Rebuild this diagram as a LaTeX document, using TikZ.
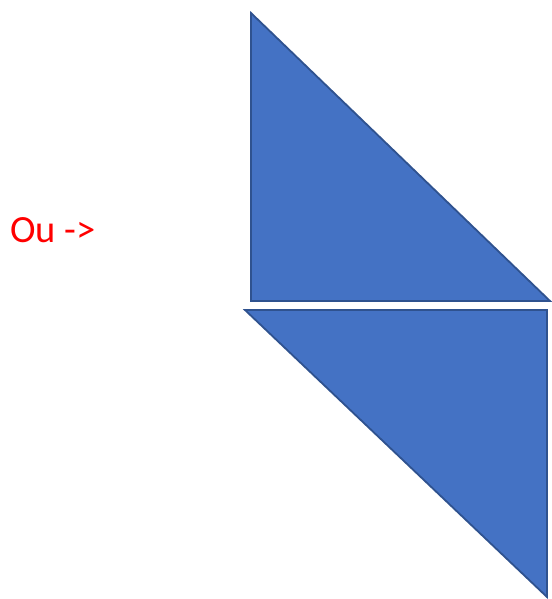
\documentclass[tikz,border=0pt]{standalone}
\usepackage{fontspec}
\setmainfont{Carlito}
\usetikzlibrary{positioning}
\definecolor{ShapeBlue}{HTML}{4472C4}
\definecolor{EdgeBlue}{HTML}{2F528F}

\begin{document}
\begin{tikzpicture}[x=1pt,y=-1pt,trianglestyle/.style={fill=ShapeBlue,draw=EdgeBlue,line width=1.8pt,line join=miter}]
    \useasboundingbox (0,0) rectangle (551,599);
    \draw[trianglestyle] (251,13)--(251,301)--(550,301)--cycle;
    \draw[trianglestyle] (245,310)--(547,310)--(547,597)--cycle;
    \node[font=\fontsize{38.5}{44}\selectfont,text=red,anchor=west,inner sep=0pt] (label) at (10,230) {Ou ->};
  \end{tikzpicture}
\end{document}
